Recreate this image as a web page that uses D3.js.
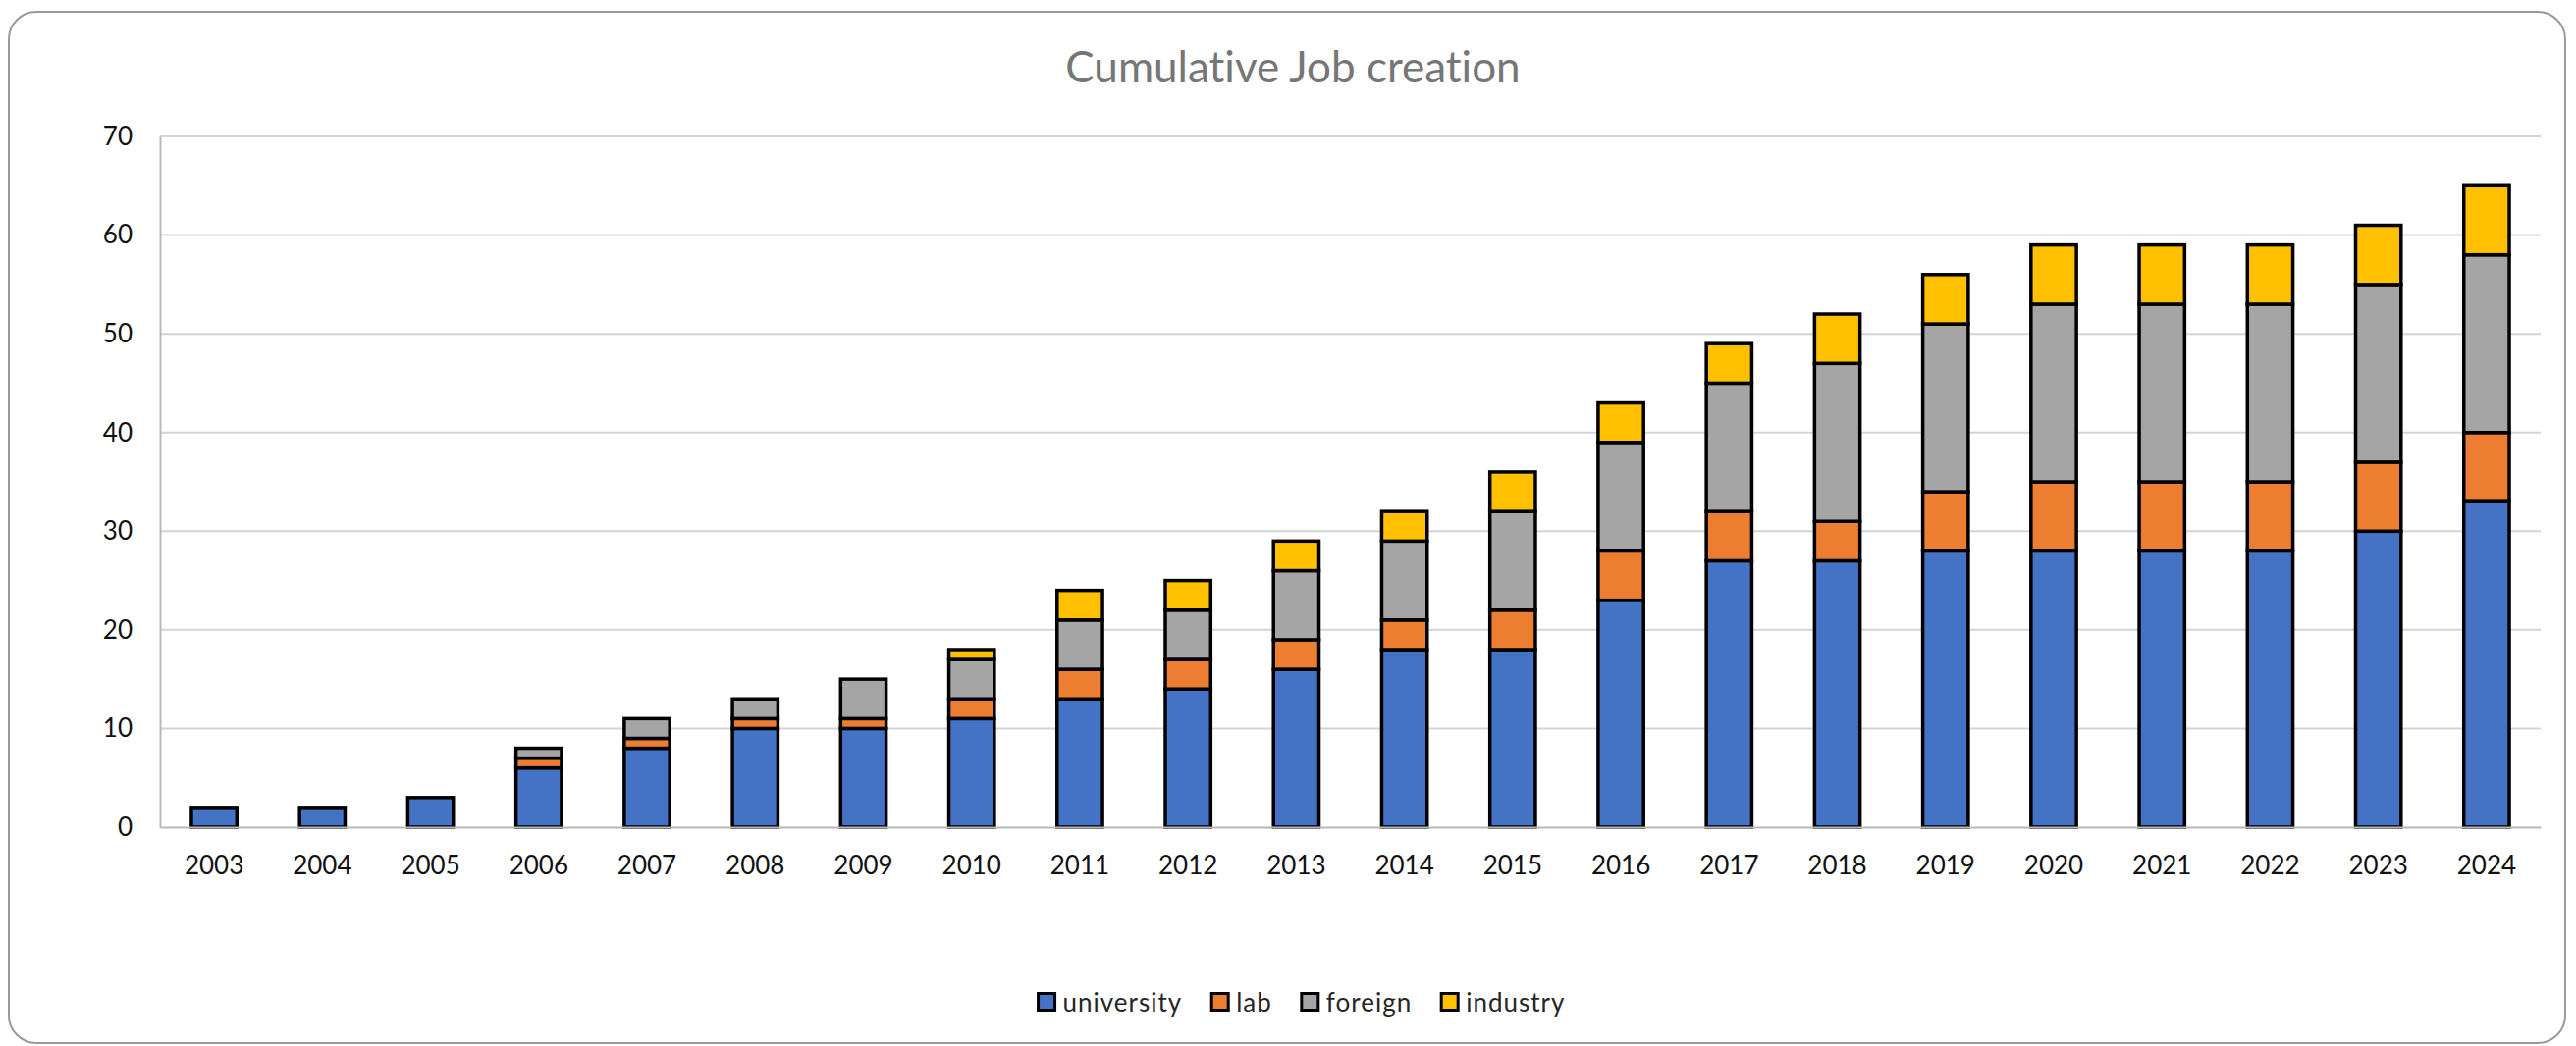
<!DOCTYPE html>
<html>
<head>
<meta charset="utf-8">
<script src="https://cdn.jsdelivr.net/npm/d3@7"></script>
<style>
  html, body { margin: 0; padding: 0; background: #ffffff; }
  svg { display: block; }
  text { font-family: Lato, "Open Sans", sans-serif; font-variant-ligatures: none; font-feature-settings: "liga" 0; }
</style>
</head>
<body>
<svg id="chart" width="2624" height="1066"></svg>
<script>
// Cumulative job creation by origin, 2003–2024
const years = ["2003","2004","2005","2006","2007","2008","2009","2010","2011","2012","2013",
               "2014","2015","2016","2017","2018","2019","2020","2021","2022","2023","2024"];
const university = [2, 2, 3, 6, 8, 10, 10, 11, 13, 14, 16, 18, 18, 23, 27, 27, 28, 28, 28, 28, 30, 33];
const lab        = [0, 0, 0, 1, 1, 1, 1, 2, 3, 3, 3, 3, 4, 5, 5, 4, 6, 7, 7, 7, 7, 7];
const foreign    = [0, 0, 0, 1, 2, 2, 4, 4, 5, 5, 7, 8, 10, 11, 13, 16, 17, 18, 18, 18, 18, 18];
const industry   = [0, 0, 0, 0, 0, 0, 0, 1, 3, 3, 3, 3, 4, 4, 4, 5, 5, 6, 6, 6, 6, 7];
const seriesNames = ["university", "lab", "foreign", "industry"];
const seriesColors = ["#4472C4", "#ED7D31", "#A5A5A5", "#FFC000"];
const yTicks = [0, 10, 20, 30, 40, 50, 60, 70];
const chartTitle = "Cumulative Job creation";

const rows = years.map((y, i) => ({
  year: y,
  university: university[i],
  lab: lab[i],
  foreign: foreign[i],
  industry: industry[i]
}));

const svg = d3.select("#chart");
const W = 2624, H = 1066;
const plot = { left: 163, right: 2588, top: 139, bottom: 843 };

// chart frame
svg.append("rect")
  .attr("x", 9).attr("y", 12)
  .attr("width", W - 20).attr("height", H - 15)
  .attr("rx", 28).attr("ry", 28)
  .attr("fill", "#ffffff")
  .attr("stroke", "#9a9a9a")
  .attr("stroke-width", 2);

const x = d3.scaleBand()
  .domain(years)
  .range([plot.left, plot.right])
  .paddingInner(0.58)
  .paddingOuter(0.29);

const y = d3.scaleLinear()
  .domain([0, 70])
  .range([plot.bottom, plot.top]);

// horizontal gridlines
svg.append("g")
  .selectAll("line")
  .data(yTicks.filter(t => t > 0))
  .join("line")
  .attr("x1", plot.left).attr("x2", plot.right)
  .attr("y1", d => y(d)).attr("y2", d => y(d))
  .attr("stroke", "#d4d4d4")
  .attr("stroke-width", 2);

// y axis
const yAxis = svg.append("g")
  .attr("transform", `translate(${plot.left},0)`)
  .call(d3.axisLeft(y).tickValues(yTicks).tickSize(0).tickPadding(28).tickFormat(d3.format("d")));
yAxis.select(".domain").attr("stroke", "#b8b8b8").attr("stroke-width", 2);
yAxis.selectAll("text")
  .attr("font-size", 26)
  .attr("fill", "#111111")
  .attr("font-family", "Lato, sans-serif");

// stacked bars
const stack = d3.stack().keys(seriesNames);
const layers = stack(rows);
const color = d3.scaleOrdinal().domain(seriesNames).range(seriesColors);

svg.append("g")
  .selectAll("g")
  .data(layers)
  .join("g")
  .attr("fill", d => color(d.key))
  .selectAll("rect")
  .data(d => d.filter(s => s[1] - s[0] > 0))
  .join("rect")
  .attr("x", d => x(d.data.year))
  .attr("width", x.bandwidth())
  .attr("y", d => y(d[1]))
  .attr("height", d => y(d[0]) - y(d[1]))
  .attr("stroke", "#000000")
  .attr("stroke-width", 3.5);

// x axis
const xAxis = svg.append("g")
  .attr("transform", `translate(0,${plot.bottom})`)
  .call(d3.axisBottom(x).tickSize(0).tickPadding(30));
xAxis.select(".domain").attr("stroke", "#b8b8b8").attr("stroke-width", 2);
xAxis.selectAll("text")
  .attr("font-size", 26)
  .attr("fill", "#111111")
  .attr("font-family", "Lato, sans-serif");

// title
svg.append("text")
  .attr("x", 1317)
  .attr("y", 67)
  .attr("text-anchor", "middle")
  .attr("dominant-baseline", "central")
  .attr("font-size", 44)
  .attr("fill", "#767676")
  .text(chartTitle);

// legend
const legend = svg.append("g");
const sw = 17, gapText = 8, gapItem = 30, fs = 26;
let cx = 0;
seriesNames.forEach((name, i) => {
  const g = legend.append("g");
  g.append("rect")
    .attr("x", 0).attr("y", -sw / 2)
    .attr("width", sw).attr("height", sw)
    .attr("fill", seriesColors[i])
    .attr("stroke", "#000").attr("stroke-width", 3);
  const t = g.append("text")
    .attr("x", sw + gapText)
    .attr("y", 0)
    .attr("dominant-baseline", "central")
    .attr("font-size", fs)
    .attr("fill", "#262626")
    .attr("letter-spacing", 1)
    .text(name);
  const w = sw + gapText + t.node().getComputedTextLength();
  g.attr("transform", `translate(${cx},0)`);
  cx += w + gapItem;
});
const legendWidth = cx - gapItem;
legend.attr("transform", `translate(${1326 - legendWidth / 2},1021)`);
</script>
</body>
</html>
